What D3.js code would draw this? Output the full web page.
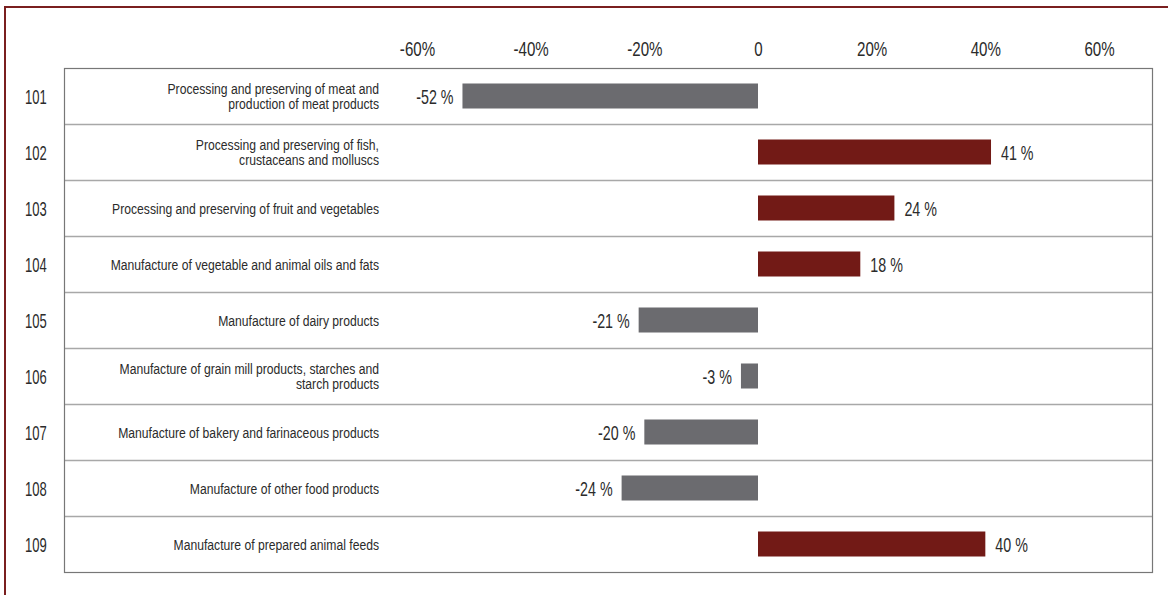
<!DOCTYPE html>
<html>
<head>
<meta charset="utf-8">
<script src="https://cdn.jsdelivr.net/npm/d3@7"></script>
<style>
  html, body { margin: 0; padding: 0; background: #fff; }
  svg { display: block; }
  text { font-family: "Liberation Sans", Arial, sans-serif; fill: #2b2b2b; }
</style>
</head>
<body>
<svg id="chart" width="1168" height="595"></svg>
<script>
// NACE codes of the food-industry divisions
const codes = ["101", "102", "103", "104", "105", "106", "107", "108", "109"];

// Division names, split into display lines
const categories = [
  ["Processing and preserving of meat and", "production of meat products"],
  ["Processing and preserving of fish,", "crustaceans and molluscs"],
  ["Processing and preserving of fruit and vegetables"],
  ["Manufacture of vegetable and animal oils and fats"],
  ["Manufacture of dairy products"],
  ["Manufacture of grain mill products, starches and", "starch products"],
  ["Manufacture of bakery and farinaceous products"],
  ["Manufacture of other food products"],
  ["Manufacture of prepared animal feeds"]
];

// Percentage change per division
const values = [-52, 41, 24, 18, -21, -3, -20, -24, 40];

// Axis tick values and their labels
const tickValues = [-60, -40, -20, 0, 20, 40, 60];
const tickLabels = ["-60%", "-40%", "-20%", "0", "20%", "40%", "60%"];

const svg = d3.select("#chart");

const frame = { left: 64, right: 1152, top: 68, bottom: 572 };

const x = d3.scaleLinear().domain([-60, 60]).range([417, 1099]);
const y = d3.scaleBand().domain(codes).range([frame.top, frame.bottom]);
const barH = 25;

const red = "#721a16";
const grey = "#6b6b6f";

// Condensed lettering: regular face squeezed horizontally
const squeeze = { axis: 0.72, code: 0.62, name: 0.785, value: 0.68 };

// Outer decorative border (top and left)
svg.append("line").attr("x1", 5).attr("x2", 1168).attr("y1", 7).attr("y2", 7)
  .attr("stroke", "#7a1f1f").attr("stroke-width", 2);
svg.append("line").attr("x1", 5).attr("x2", 5).attr("y1", 6).attr("y2", 595)
  .attr("stroke", "#7a1f1f").attr("stroke-width", 2);

// Row separators
svg.append("g").selectAll("line")
  .data(codes.slice(1))
  .join("line")
  .attr("x1", frame.left).attr("x2", frame.right)
  .attr("y1", d => Math.round(y(d)) + 0.5).attr("y2", d => Math.round(y(d)) + 0.5)
  .attr("stroke", "#a8a8a8").attr("stroke-width", 1.5);

// Frame around the table
svg.append("rect")
  .attr("x", frame.left + 0.5).attr("y", frame.top + 0.5)
  .attr("width", frame.right - frame.left).attr("height", frame.bottom - frame.top)
  .attr("fill", "none").attr("stroke", "#777").attr("stroke-width", 1.2);

// Top axis labels
const axis = d3.axisTop(x).tickValues(tickValues).tickSize(0)
  .tickFormat((d, i) => tickLabels[i]);
const axisG = svg.append("g").attr("transform", "translate(0,56)").call(axis);
axisG.select(".domain").remove();
axisG.selectAll("text")
  .attr("dy", 0)
  .attr("y", 0)
  .attr("transform", `scale(${squeeze.axis},1)`)
  .style("font-family", '"Liberation Sans", Arial, sans-serif')
  .style("font-size", "21px")
  .style("fill", "#2b2b2b");

// Division codes
svg.append("g").selectAll("text")
  .data(codes)
  .join("text")
  .attr("transform", d => `translate(25,${y(d) + y.bandwidth() / 2 + 8}) scale(${squeeze.code},1)`)
  .style("font-size", "21px")
  .text(d => d);

// Division names (right aligned)
const lineGap = 16;
svg.append("g").selectAll("text")
  .data(categories)
  .join("text")
  .attr("text-anchor", "end")
  .style("font-size", "15.5px")
  .attr("transform", (lines, i) => {
    const cy = y(codes[i]) + y.bandwidth() / 2;
    const first = cy + 5.5 - (lines.length - 1) * lineGap / 2;
    return `translate(379,${first}) scale(${squeeze.name},1)`;
  })
  .each(function (lines) {
    const t = d3.select(this);
    lines.forEach((ln, j) => {
      t.append("tspan").attr("x", 0).attr("y", j * lineGap).text(ln);
    });
  });

// Bars
svg.append("g").selectAll("rect")
  .data(values)
  .join("rect")
  .attr("x", d => x(Math.min(0, d)))
  .attr("width", d => Math.abs(x(d) - x(0)))
  .attr("y", (d, i) => y(codes[i]) + (y.bandwidth() - barH) / 2)
  .attr("height", barH)
  .attr("fill", d => d < 0 ? grey : red);

// Value labels
svg.append("g").selectAll("text")
  .data(values)
  .join("text")
  .attr("text-anchor", d => d < 0 ? "end" : "start")
  .attr("transform", (d, i) => {
    const tx = d < 0 ? x(d) - 9 : x(d) + 10;
    const ty = y(codes[i]) + y.bandwidth() / 2 + 7.5;
    return `translate(${tx},${ty}) scale(${squeeze.value},1)`;
  })
  .style("font-size", "21px")
  .text(d => `${d} %`);
</script>
</body>
</html>
